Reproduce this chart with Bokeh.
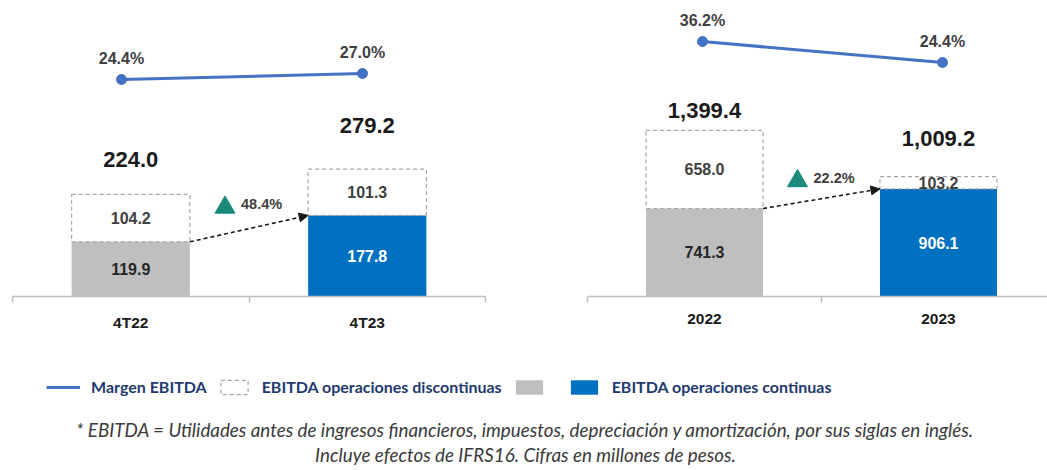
from bokeh.plotting import figure
from bokeh.models import (Range1d, FixedTicker, CustomJSTickFormatter, ColumnDataSource,
                          Arrow, NormalHead, Legend, LegendItem, Label)
from bokeh.layouts import column, row
from bokeh.embed import file_html
from bokeh.resources import INLINE
from bokeh.core.properties import value

# ---------------- data ----------------
q_labels = ["4T22", "4T23"]
q_cont = [119.9, 177.8]
q_disc = [104.2, 101.3]
q_total = [224.0, 279.2]
q_margin = [24.4, 27.0]
q_growth = [48.4]

y_labels = ["2022", "2023"]
y_cont = [741.3, 906.1]
y_disc = [658.0, 103.2]
y_total = [1399.4, 1009.2]
y_margin = [36.2, 24.4]
y_growth = [22.2]

legend_labels = ["Margen EBITDA", "EBITDA operaciones discontinuas", "EBITDA operaciones continuas"]
footnote = [
    "* EBITDA = Utilidades antes de ingresos financieros, impuestos, depreciación y amortización, por sus siglas en inglés.",
    "Incluye efectos de IFRS16. Cifras en millones de pesos.",
]

# ---------------- styles ----------------
FONT = value("Liberation Sans")
BAR_COLORS = ["#BFBFBF", "#0070C0"]
BAR_LABEL_COLORS = ["#262626", "#FFFFFF"]
LINE_COLOR = "#4472C4"
DASH_COLOR = "#A6A6A6"
AXIS_COLOR = "#BFBFBF"
TEAL = "#1B8A7A"
FIG_H = 336
FRAME_TOP = 8
FRAME_H = 288


def panel(cats, cont, disc, total, margin, growth, width, b_left, b_right,
          x_end, y_end, pct_range, line_range, total_offsets):
    p = figure(width=width, height=FIG_H, x_range=Range1d(0, x_end), y_range=Range1d(0, y_end),
               output_backend="svg", toolbar_location=None,
               min_border_left=b_left, min_border_right=b_right,
               min_border_top=FRAME_TOP, min_border_bottom=FIG_H - FRAME_H - FRAME_TOP,
               y_axis_location=None)
    p.extra_y_ranges = {"pct": Range1d(*pct_range)}
    p.extra_x_ranges = {"line": Range1d(*line_range)}
    p.outline_line_color = None
    p.grid.visible = False
    p.background_fill_color = "white"

    frame_w = width - b_left - b_right
    px_x = frame_w / x_end      # px per x unit
    px_y = FRAME_H / y_end      # px per y unit

    xs = [i + 0.5 for i in range(len(cats))]
    src = ColumnDataSource(dict(
        x=xs, cont=cont, total=total,
        cont_mid=[c / 2 for c in cont],
        disc_mid=[c + d / 2 for c, d in zip(cont, disc)],
        color=BAR_COLORS, lab_color=BAR_LABEL_COLORS,
        cont_txt=[f"{v:,.1f}" for v in cont],
        disc_txt=[f"{v:,.1f}" for v in disc],
        total_txt=[f"{v:,.1f}" for v in total],
        tot_off=total_offsets,
        margin=margin,
        margin_txt=[f"{v:.1f}%" for v in margin],
    ))

    # stacked bars
    p.vbar(x="x", bottom=0, top="cont", width=0.5, fill_color="color", line_color=None, source=src)
    p.vbar(x="x", bottom="cont", top="total", width=0.5, fill_color="white", fill_alpha=0,
           line_color=DASH_COLOR, line_dash="4 3", line_width=1.2, source=src)

    p.text(x="x", y="cont_mid", text="cont_txt", text_color="lab_color", text_align="center",
           text_baseline="middle", text_font=FONT, text_font_style="bold",
           text_font_size="16px", source=src)
    p.text(x="x", y="disc_mid", text="disc_txt", text_color="#404040", text_align="center",
           text_baseline="middle", text_font=FONT, text_font_style="bold",
           text_font_size="16px", source=src)
    p.text(x="x", y="total", text="total_txt", y_offset="tot_off", text_color="#1A1A1A",
           text_align="center", text_baseline="middle", text_font=FONT,
           text_font_style="bold", text_font_size="22px", source=src)

    # margin line
    p.line(x="x", y="margin", x_range_name="line", y_range_name="pct", line_color=LINE_COLOR,
           line_width=3, source=src)
    p.scatter(x="x", y="margin", x_range_name="line", y_range_name="pct", marker="circle",
              size=10, fill_color=LINE_COLOR, line_color=LINE_COLOR, source=src)
    p.text(x="x", y="margin", text="margin_txt", x_range_name="line", y_range_name="pct",
           y_offset=-21, text_color="#404040", text_align="center", text_baseline="middle",
           text_font=FONT, text_font_style="bold", text_font_size="16px", source=src)

    # growth arrow
    p.add_layout(Arrow(end=NormalHead(size=9, fill_color="#1A1A1A", line_color="#1A1A1A", line_width=1),
                       x_start=xs[0] + 0.25, y_start=cont[0], x_end=xs[1] - 0.25, y_end=cont[1],
                       line_color="#1A1A1A", line_width=1.6, line_dash="4 3"))
    mid = (xs[0] + xs[1]) / 2
    p.scatter(x=[mid - 24 / px_x], y=[cont[1] + 8 / px_y], marker="triangle", size=20,
              fill_color=TEAL, line_color=TEAL)
    p.text(x=[mid], y=[cont[1]], text=[f"{growth[0]:.1f}%"], x_offset=-8, y_offset=-11,
           text_color="#404040", text_align="left", text_baseline="middle", text_font=FONT,
           text_font_style="bold", text_font_size="14.5px")

    # category axis
    ax = p.xaxis[0]
    ax.ticker = FixedTicker(ticks=xs, minor_ticks=list(range(len(cats) + 1)))
    ax.formatter = CustomJSTickFormatter(args=dict(labels=cats),
                                         code="return labels[Math.round(tick - 0.5)] || ''")
    ax.major_tick_in = 0
    ax.major_tick_out = 0
    ax.major_tick_line_color = None
    ax.minor_tick_in = 0
    ax.minor_tick_out = 6
    ax.minor_tick_line_color = AXIS_COLOR
    ax.minor_tick_line_width = 1.5
    ax.axis_line_color = AXIS_COLOR
    ax.axis_line_width = 1.5
    ax.major_label_standoff = 11
    ax.major_label_text_font = "Liberation Sans"
    ax.major_label_text_font_style = "bold"
    ax.major_label_text_font_size = "15.5px"
    ax.major_label_text_color = "#1A1A1A"
    return p


p1 = panel(q_labels, q_cont, q_disc, q_total, q_margin, q_growth,
           width=518, b_left=12, b_right=33, x_end=2.0, y_end=631.6,
           pct_range=(-69.63, 55.17), line_range=(0.0477, 2.0104), total_offsets=[-35, -44])
p2 = panel(y_labels, y_cont, y_disc, y_total, y_margin, y_growth,
           width=529, b_left=69, b_right=0, x_end=460 / 234, y_end=2426,
           pct_range=(-107.08, 54.74), line_range=(0.0208, 1.9375), total_offsets=[-20, -38])

# ---------------- legend + footnote ----------------
BOTTOM_H = 134
pb = figure(width=1047, height=BOTTOM_H, x_range=Range1d(0, 1), y_range=Range1d(0, 1),
            output_backend="svg", toolbar_location=None, min_border=0,
            x_axis_location=None, y_axis_location=None)
pb.outline_line_color = None
pb.grid.visible = False

# hidden renderers that only supply the legend swatches
r_line = pb.line(x=[0], y=[0], line_color=LINE_COLOR, line_width=3, visible=False)
r_disc = pb.vbar(x=[0], top=[0], width=0.5, fill_color="white", line_color=DASH_COLOR,
                 line_dash="4 3", line_width=1.2, visible=False)
r_gray = pb.vbar(x=[0], top=[0], width=0.5, fill_color=BAR_COLORS[0], line_color=None, visible=False)
r_blue = pb.vbar(x=[0], top=[0], width=0.5, fill_color=BAR_COLORS[1], line_color=None, visible=False)

legend = Legend(items=[
    LegendItem(label=legend_labels[0], renderers=[r_line]),
    LegendItem(label=legend_labels[1], renderers=[r_disc]),
    LegendItem(label="", renderers=[r_gray]),
    LegendItem(label=legend_labels[2], renderers=[r_blue]),
], orientation="horizontal", location=(46, 74), glyph_width=34, glyph_height=18,
    label_height=18, label_width=0, label_standoff=11, spacing=10, padding=0, margin=0,
    border_line_alpha=0, background_fill_alpha=0,
    label_text_font="Lato", label_text_font_style="bold", label_text_font_size="16px",
    label_text_color="#1F3A6E")
pb.add_layout(legend)

for txt, yy in zip(footnote, [41, 16]):
    pb.add_layout(Label(x=525, y=yy, x_units="screen", y_units="screen", text=txt,
                        text_align="center", text_baseline="middle", text_font="Lato",
                        text_font_style="italic", text_font_size="18.8px", text_color="#3A3A3A"))

layout = column(row(p1, p2), pb)
open("out.html", "w").write(file_html(layout, INLINE))
